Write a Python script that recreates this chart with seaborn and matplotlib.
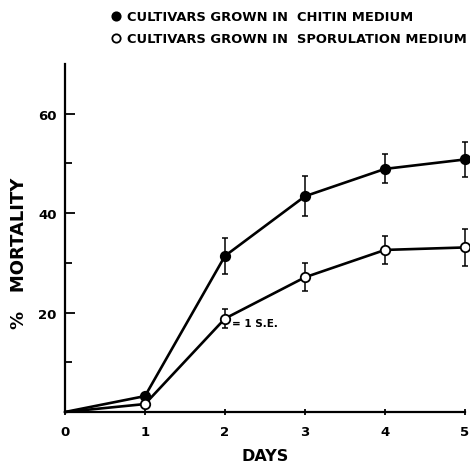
import matplotlib
matplotlib.use("Agg")
import matplotlib.pyplot as plt
import seaborn as sns
import pandas as pd
import numpy as np

days = [0, 1, 2, 3, 4, 5]
chitin = [0, 3.2, 31.4, 43.4, 48.9, 50.8]
chitin_se = [0, 0, 3.7, 4.0, 2.9, 3.6]
sporulation = [0, 1.6, 18.8, 27.1, 32.6, 33.1]
sporulation_se = [0, 0, 2.0, 2.8, 2.9, 3.7]
series_names = ["CULTIVARS GROWN IN  CHITIN MEDIUM", "CULTIVARS GROWN IN  SPORULATION MEDIUM"]
x_ticks = [0, 1, 2, 3, 4, 5]
y_major = [20, 40, 60]
y_minor = [10, 30, 50]

sns.set_theme(style="white")
plt.rcParams['font.family'] = ['DejaVu Sans']
plt.rcParams['font.weight'] = 'bold'
plt.rcParams['text.color'] = 'black'
plt.rcParams['axes.labelcolor'] = 'black'
plt.rcParams['xtick.color'] = 'black'
plt.rcParams['ytick.color'] = 'black'

df = pd.DataFrame({
    "day": days * 2,
    "mort": chitin + sporulation,
    "se": chitin_se + sporulation_se,
    "series": [series_names[0]] * 6 + [series_names[1]] * 6,
})

fig = plt.figure(figsize=(4.70, 4.64), dpi=100)
ax = fig.add_axes([65/470, 1-413/464, 400/470, 348/464])

for name, face in zip(series_names, ["black", "white"]):
    sub = df[df.series == name]
    ax.errorbar(sub.day[2:], sub.mort[2:], yerr=sub.se[2:], fmt="none", ecolor="black",
                elinewidth=1.1, capsize=2, capthick=1.1, zorder=2, clip_on=False)
    sns.lineplot(data=sub, x="day", y="mort", ax=ax, color="black", linewidth=1.9,
                 marker="o", markersize=6.8, markerfacecolor=face, markeredgecolor="black",
                 markeredgewidth=1.3, label=name, zorder=3, clip_on=False, markevery=list(range(1, 6)))

ax.set_xlim(0, 5)
ax.set_ylim(0, 70)
ax.set_xticks(x_ticks)
ax.set_xticklabels([str(t) for t in x_ticks], fontsize=9.5, fontweight='bold')
ax.set_yticks(y_major)
ax.set_yticklabels([str(t) for t in y_major], fontsize=9.5, fontweight='bold')
ax.set_yticks(y_minor, minor=True)
ax.tick_params(axis='y', which='major', direction='in', length=7.5, width=1.3, pad=6, left=True)
ax.tick_params(axis='y', which='minor', direction='in', length=5, width=1.3, left=True)
ax.tick_params(axis='x', which='major', direction='inout', length=5, width=1.3, pad=7, bottom=True)
for s in ["top", "right"]:
    ax.spines[s].set_visible(False)
for s in ["left", "bottom"]:
    ax.spines[s].set_linewidth(1.6)
    ax.spines[s].set_color("black")

ax.set_xlabel("DAYS", fontsize=11.5, fontweight='bold', labelpad=7)
ax.set_ylabel("%   MORTALITY", fontsize=13, fontweight='bold')
ax.yaxis.set_label_coords(-0.093, 0.458)

ax.text(2.09, 18.0, "= 1 S.E.", fontsize=7.5, fontweight='bold', va='center', ha='left')

leg = ax.legend(loc="upper left", bbox_to_anchor=(0.105, 1 + 59/348), frameon=False,
                handlelength=0.6, handletextpad=0.5, labelspacing=0.68,
                prop={'size': 9.4, 'weight': 'bold'}, borderaxespad=0)
for h in leg.legend_handles:
    h.set_linestyle("none")
    h.set_markersize(6)
for t in leg.get_texts():
    t.set_color("black")

fig.savefig("out.png", dpi=100)
